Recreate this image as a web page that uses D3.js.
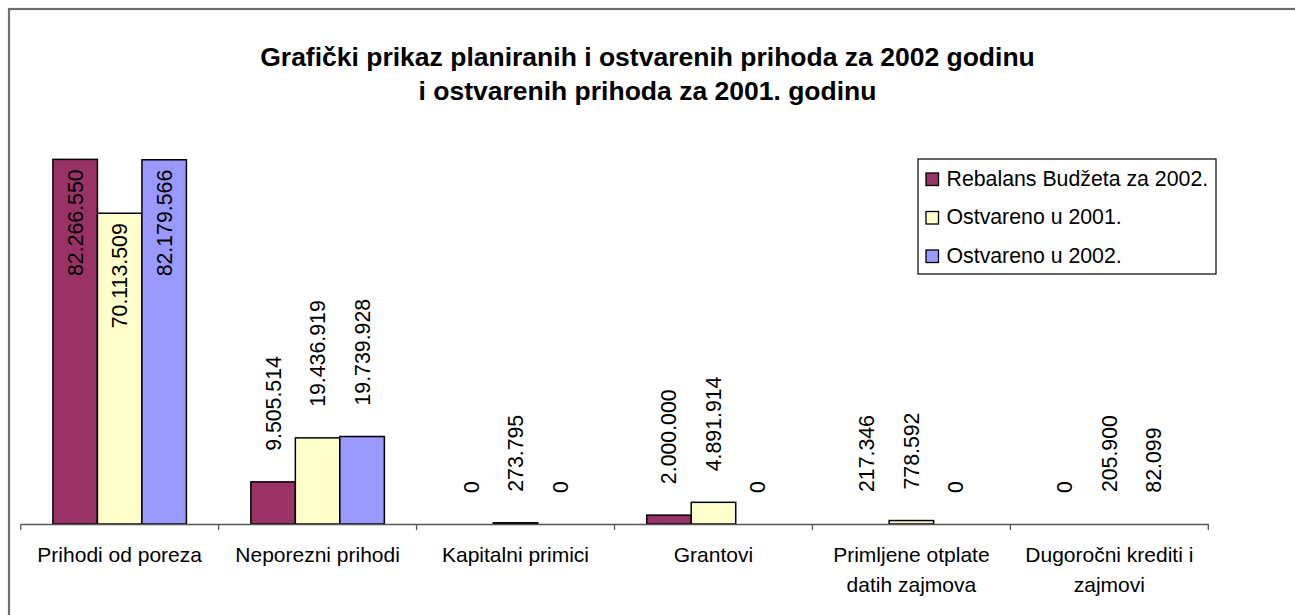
<!DOCTYPE html>
<html>
<head>
<meta charset="utf-8">
<script src="https://cdn.jsdelivr.net/npm/d3@7"></script>
<style>
html,body{margin:0;padding:0;background:#fff;}
svg{display:block;}
text{font-family:"Liberation Sans",Arial,sans-serif;}
</style>
</head>
<body>
<svg id="chart" width="1295" height="615"></svg>
<script>
const titleLines = ["Grafički prikaz planiranih i ostvarenih prihoda za 2002 godinu", "i ostvarenih prihoda za 2001. godinu"];
const categories = [
  ["Prihodi od poreza"],
  ["Neporezni prihodi"],
  ["Kapitalni primici"],
  ["Grantovi"],
  ["Primljene otplate", "datih zajmova"],
  ["Dugoročni krediti i", "zajmovi"]
];
const seriesNames = ["Rebalans Budžeta za 2002.", "Ostvareno u 2001.", "Ostvareno u 2002."];
const seriesColors = ["#993366", "#FFFFCC", "#9999FF"];
const rebalans2002 = [82266550, 9505514, 0, 2000000, 217346, 0];
const ostvareno2001 = [70113509, 19436919, 273795, 4891914, 778592, 205900];
const ostvareno2002 = [82179566, 19739928, 0, 0, 0, 82099];
const seriesValues = [rebalans2002, ostvareno2001, ostvareno2002];
const yMax = 90000000;

const svg = d3.select("#chart");
const fmt = v => d3.format(",")(v).replace(/,/g, ".");

// outer border
svg.append("rect").attr("x", 9).attr("y", 9).attr("width", 1400).attr("height", 800)
  .attr("fill", "none").attr("stroke", "#6e6e6e").attr("stroke-width", 2.2);

// title
svg.append("g").selectAll("text").data(titleLines).join("text")
  .attr("x", 647.5).attr("y", (d, i) => 66 + i * 33.5)
  .attr("text-anchor", "middle").attr("font-size", 26.5).attr("font-weight", "bold")
  .attr("fill", "#000").text(d => d);

const baseY = 524;
const x0 = d3.scaleBand().domain(d3.range(categories.length)).range([20.7, 1208.3]).padding(0);
const groupW = 133.5;
const x1 = d3.scaleBand().domain(d3.range(seriesNames.length))
  .range([(x0.bandwidth() - groupW) / 2, (x0.bandwidth() + groupW) / 2]).padding(0);
const y = d3.scaleLinear().domain([0, yMax]).range([baseY, 125.1]);

// bars (heights under one pixel round to nothing, as in the original)
const groups = svg.append("g").selectAll("g").data(categories).join("g")
  .attr("transform", (d, i) => `translate(${x0(i)},0)`);

groups.each(function(cat, ci) {
  const g = d3.select(this);
  seriesValues.forEach((vals, si) => {
    const v = vals[ci];
    const h = baseY - y(v);
    if (h >= 1) {
      g.append("rect")
        .attr("x", x1(si)).attr("y", y(v))
        .attr("width", x1.bandwidth()).attr("height", h)
        .attr("fill", seriesColors[si]).attr("stroke", "#000").attr("stroke-width", 1.5);
    }
  });
});

// axis
const axis = d3.axisBottom(x0).tickSize(0).tickFormat("");
const axG = svg.append("g").attr("transform", `translate(0,${baseY})`).call(axis);
axG.select(".domain").attr("stroke", "#555").attr("stroke-width", 1.3);
const tickPos = d3.range(categories.length + 1).map(i => x0.range()[0] + i * x0.bandwidth());
axG.selectAll(".tk").data(tickPos).join("line").attr("class", "tk")
  .attr("x1", d => d).attr("x2", d => d).attr("y1", 0).attr("y2", 6)
  .attr("stroke", "#555").attr("stroke-width", 1.3);

// category labels
groups.each(function(cat, ci) {
  const t = d3.select(this).append("text")
    .attr("x", x0.bandwidth() / 2).attr("y", 562)
    .attr("text-anchor", "middle").attr("font-size", 21).attr("fill", "#000");
  t.selectAll("tspan").data(cat).join("tspan")
    .attr("x", x0.bandwidth() / 2).attr("dy", (d, i) => i === 0 ? 0 : 29.5).text(d => d);
});

// value labels (rotated)
const plotTop = 159;
groups.each(function(cat, ci) {
  const g = d3.select(this);
  seriesValues.forEach((vals, si) => {
    const v = vals[ci];
    const cx = x1(si) + x1.bandwidth() / 2;
    const txt = fmt(v);
    const t = g.append("text").attr("font-size", 21.3).attr("fill", "#000").text(txt);
    const len = t.node().getComputedTextLength();
    let bottom = y(v) - 31;
    if (bottom - len < plotTop) bottom = y(v) + 10 + len;
    t.attr("transform", `translate(${cx + 7.5},${bottom}) rotate(-90)`);
  });
});

// legend
const lg = svg.append("g");
lg.append("rect").attr("x", 918).attr("y", 159).attr("width", 298).attr("height", 115)
  .attr("fill", "#fff").attr("stroke", "#000").attr("stroke-width", 1.2);
const items = lg.selectAll("g.item").data(seriesNames).join("g").attr("class", "item")
  .attr("transform", (d, i) => `translate(0,${185.5 + i * 38.5})`);
items.append("rect").attr("x", 926).attr("y", -12.5).attr("width", 12.5).attr("height", 12.5)
  .attr("fill", (d, i) => seriesColors[i]).attr("stroke", "#000").attr("stroke-width", 1.3);
items.append("text").attr("x", 946.5).attr("y", 0).attr("font-size", 21.3).attr("fill", "#000").text(d => d);
</script>
</body>
</html>
